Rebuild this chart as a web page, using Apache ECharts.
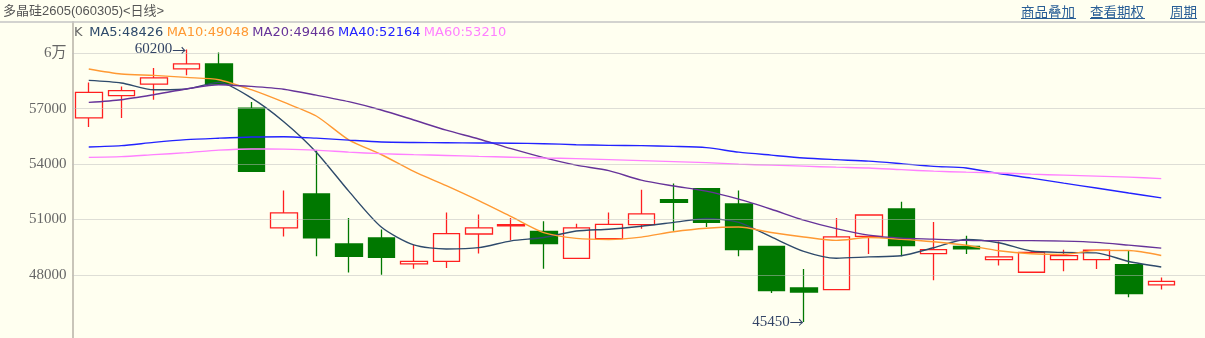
<!DOCTYPE html>
<html><head><meta charset="utf-8">
<script src="https://cdn.jsdelivr.net/npm/echarts@6/dist/echarts.min.js"></script>
<style>html,body{margin:0;padding:0;background:#FFFFF0;} #c{width:1205px;height:338px;}</style>
</head><body><div id="c"></div>
<script>
// ---- data ----
const opens  = [56500, 57700, 58330, 59150, 59420, 57030, 50540, 52380, 49670, 50000, 48590, 48730, 50210, 50650, 50350, 48890, 49960, 50720, 52070, 52670, 51840, 49540, 47290, 47200, 50080, 51570, 49150, 49540, 48820, 48140, 48820, 48820, 48550, 47450];
const closes = [57880, 57970, 58660, 59420, 58330, 53600, 51350, 50000, 49000, 48950, 48730, 50230, 50540, 50720, 49690, 50540, 50730, 51300, 51920, 50840, 49360, 47140, 47070, 50050, 51240, 49580, 49360, 49400, 48970, 49220, 49040, 49330, 46980, 47650];
const lows   = [56000, 56490, 57480, 58800, 58300, 53600, 50080, 49000, 48130, 48010, 48330, 48370, 49150, 49870, 48330, 48890, 49960, 50500, 50390, 50590, 49000, 47020, 45450, 47200, 49130, 49000, 47700, 49130, 48500, 48140, 48190, 48320, 46780, 47200];
const highs  = [58420, 58200, 59200, 60200, 60040, 57360, 52570, 54740, 51080, 50450, 49630, 51380, 51260, 51080, 50900, 50770, 51380, 52610, 52940, 52670, 52570, 49540, 48320, 51080, 51240, 51950, 50860, 50120, 49810, 49270, 49360, 49330, 49330, 47860];

const ma5  = [58530, 58390, 58020, 58060, 58420, 57580, 56290, 54640, 52530, 50590, 49620, 49400, 49470, 49840, 50020, 50370, 50470, 50630, 50840, 51050, 50840, 50050, 49270, 48900, 48970, 49030, 49465, 49915, 49735, 49290, 49210, 49190, 48720, 48426];
const ma10 = [59145, 58874, 58798, 58690, 58566, 58024, 57348, 56600, 55310, 54515, 53600, 52826, 52014, 51145, 50280, 49974, 49912, 50042, 50334, 50524, 50587, 50290, 50050, 49865, 50021, 49925, 49788, 49598, 49302, 49140, 49108, 49326, 49317, 49048];
const ma20 = [57337, 57483, 57754, 58062, 58295, 58203, 58051, 57727, 57375, 56925, 56384, 55832, 55356, 54831, 54344, 53938, 53640, 53130, 52810, 52530, 52097, 51550, 50960, 50500, 50150, 49986, 49932, 49867, 49851, 49851, 49824, 49759, 49607, 49446];
const ma40 = [54923, 54993, 55172, 55318, 55399, 55464, 55480, 55399, 55291, 55193, 55166, 55155, 55139, 55128, 55101, 55047, 55009, 54993, 54955, 54885, 54641, 54479, 54327, 54235, 54154, 54019, 53873, 53787, 53486, 53234, 52963, 52698, 52427, 52164];
const ma60 = [54360, 54398, 54506, 54614, 54750, 54814, 54804, 54750, 54641, 54560, 54506, 54463, 54414, 54370, 54327, 54289, 54235, 54181, 54127, 54073, 53992, 53938, 53883, 53829, 53786, 53694, 53613, 53559, 53515, 53450, 53396, 53342, 53288, 53210];

const yTickValues = [60000, 57000, 54000, 51000, 48000];
const yTickLabels = ['6万', '57000', '54000', '51000', '48000'];

const titleText = '多晶硅2605(060305)<日线>';
const links = ['商品叠加', '查看期权', '周期'];

// categories: one per trading day, plus one empty slot at the right edge
const categories = opens.map((_, i) => 'D' + (i + 1)).concat(['']);

// ---- build ----
const BG = '#FFFFF0';
const UP = '#FF2020', DOWN = '#007800';
const maColors = ['#2E4A6B', '#FF9933', '#663399', '#2222FF', '#FF80FF'];
const maNames = ['MA5', 'MA10', 'MA20', 'MA40', 'MA60'];
const maData = [ma5, ma10, ma20, ma40, ma60];

const kData = opens.map((o, i) => [o, closes[i], lows[i], highs[i]]);
const hiVal = Math.max(...highs), hiIdx = highs.indexOf(hiVal);
const loVal = Math.min(...lows), loIdx = lows.indexOf(loVal);

const richKeys = ['a', 'b', 'c', 'd', 'e'];
let legendText = '{k|K}  ' + maNames.map((n, i) => '{' + richKeys[i] + '|' + n + ':' + maData[i][maData[i].length - 1] + '}').join(' ');
const rich = { k: { fill: '#666', fontFamily: 'DejaVu Sans', fontSize: 13 } };
richKeys.forEach((k, i) => rich[k] = { fill: maColors[i], fontFamily: 'DejaVu Sans', fontSize: 13 });

const linkX = [1021, 1090, 1170];
const linkW = [55, 55, 27];
const graphics = [
  { type: 'text', x: 3, y: 11, z: 100, style: { text: titleText, fill: '#555', font: '13px "Liberation Sans", "Noto Sans CJK SC"', verticalAlign: 'middle' } },
  { type: 'line', z: 100, shape: { x1: 0, y1: 22, x2: 1205, y2: 22 }, style: { stroke: '#C4C4C4', lineWidth: 1.5 } },
  { type: 'text', x: 74, y: 33, z: 100, style: { text: legendText, rich: rich, verticalAlign: 'middle' } }
];
links.forEach((t, i) => {
  graphics.push({ type: 'text', x: linkX[i], y: 11.5, z: 100, style: { text: t, fill: '#2A5F96', font: '13.5px "Noto Sans CJK SC"', verticalAlign: 'middle' } });
  graphics.push({ type: 'line', z: 100, shape: { x1: linkX[i], y1: 18.5, x2: linkX[i] + linkW[i], y2: 18.5 }, style: { stroke: '#2A5F96', lineWidth: 1 } });
});

const series = [
  {
    type: 'line', name: 'grid', data: categories.map(() => null), z: 1, silent: true, showSymbol: false,
    markLine: {
      symbol: 'none', silent: true, animation: false, label: { show: false },
      lineStyle: { type: 'dotted', color: '#BDBDBD', width: 1 },
      data: yTickValues.map(v => ({ yAxis: v }))
    }
  },
  {
    type: 'candlestick', name: 'K', data: kData, barWidth: 27, z: 2,
    itemStyle: { color: BG, color0: DOWN, borderColor: UP, borderColor0: DOWN, borderWidth: 1.3 },
    emphasis: { disabled: true },
    markPoint: {
      symbol: 'circle', symbolSize: 0, silent: true, animation: false,
      label: {
        show: true, position: 'left', distance: 0,
        formatter: p => '{n|' + p.value + '}{r|→}',
        rich: {
          n: { color: '#334466', fontFamily: 'Liberation Serif', fontSize: 15 },
          r: { color: '#334466', fontFamily: 'Noto Sans CJK SC', fontSize: 14 }
        }
      },
      data: [
        { coord: [categories[hiIdx], hiVal], value: hiVal },
        { coord: [categories[loIdx], loVal], value: loVal }
      ]
    }
  }
];
maData.forEach((d, i) => series.push({
  type: 'line', name: maNames[i], data: d, z: 3, symbol: 'none', showSymbol: false, smooth: 0.25, silent: true,
  lineStyle: { color: maColors[i], width: 1.4 }, emphasis: { disabled: true }
}));

const yMin = 44580, yMax = 61690;
const option = {
  backgroundColor: BG,
  animation: false,
  grid: { left: 72.5, top: 22, width: categories.length * 32.5, height: (yMax - yMin) * 0.018467, outerBoundsMode: 'none' },
  xAxis: { type: 'category', data: categories, boundaryGap: true, show: false },
  yAxis: {
    type: 'value', min: yMin, max: yMax, position: 'left',
    axisLine: { show: true, lineStyle: { color: '#C9C5B9', width: 2 } },
    axisTick: { show: false }, splitLine: { show: false },
    axisLabel: {
      margin: 6, color: '#666', fontFamily: 'Liberation Serif, Noto Sans CJK SC', fontSize: 15,
      customValues: yTickValues,
      formatter: v => { const i = yTickValues.indexOf(v); return i < 0 ? '' : yTickLabels[i]; }
    }
  },
  graphic: graphics,
  series: series
};
const chart = echarts.init(document.getElementById('c'), null, { renderer: 'canvas' });
chart.setOption(option);
</script>
</body></html>
